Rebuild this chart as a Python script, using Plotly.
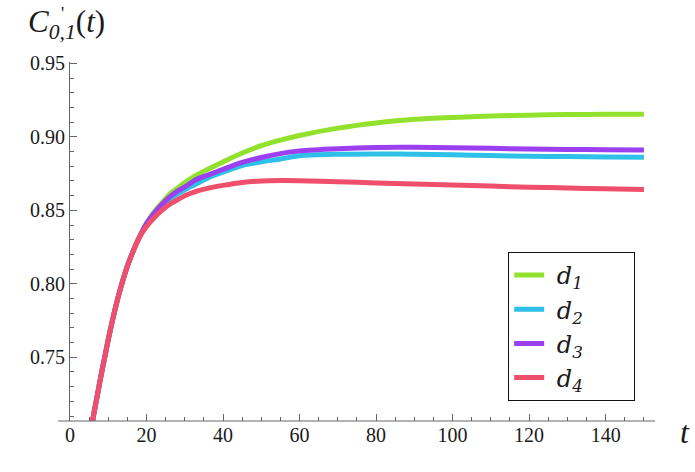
import plotly.graph_objects as go

t = [5.8, 6, 7, 8, 9, 10, 11, 12, 13, 14, 15, 16, 18, 20, 22, 24, 26, 28, 30, 33, 36, 40, 45, 50, 55, 60,
     70, 80, 90, 100, 110, 120, 130, 140, 150]
early = [0.703, 0.708, 0.722, 0.736, 0.749, 0.762, 0.774, 0.785, 0.795, 0.804, 0.812, 0.819, 0.831]
d1 = early + [0.841, 0.849, 0.855, 0.861, 0.865, 0.869, 0.874, 0.878, 0.883, 0.889, 0.894, 0.8978, 0.901,
              0.906, 0.9095, 0.912, 0.9133, 0.9142, 0.9148, 0.9152, 0.9154, 0.9155]
d2 = early + [0.841, 0.848, 0.853, 0.857, 0.861, 0.864, 0.868, 0.872, 0.876, 0.8805, 0.883, 0.885, 0.8872,
              0.8882, 0.8884, 0.8882, 0.8878, 0.8873, 0.8869, 0.8866, 0.8863, 0.8861]
d3 = early + [0.841, 0.848, 0.854, 0.859, 0.863, 0.866, 0.871, 0.874, 0.878, 0.8827, 0.886, 0.8886, 0.8905,
              0.892, 0.8928, 0.8929, 0.8926, 0.8922, 0.8918, 0.8915, 0.8913, 0.8911]
d4 = early + [0.839, 0.845, 0.850, 0.854, 0.857, 0.860, 0.863, 0.865, 0.867, 0.869, 0.870, 0.8703, 0.8702,
              0.8695, 0.8687, 0.868, 0.8672, 0.8665, 0.8658, 0.8652, 0.8647, 0.8642]

names = ["&nbsp;<i>d</i><sub><i>1</i></sub>&nbsp;&nbsp;&nbsp;&nbsp;&nbsp;&nbsp;", "&nbsp;<i>d</i><sub><i>2</i></sub>",
         "&nbsp;<i>d</i><sub><i>3</i></sub>", "&nbsp;<i>d</i><sub><i>4</i></sub>"]
series = [d1, d2, d3, d4]
colors = ["#92e22d", "#2ec0e8", "#9c3ff0", "#f04f6b"]

x_ticks = [0, 20, 40, 60, 80, 100, 120, 140]
y_ticks = [0.75, 0.80, 0.85, 0.90, 0.95]
y_labels = ["0.75", "0.80", "0.85", "0.90", "0.95"]

fig = go.Figure()
for i, (nm, ys, c) in enumerate(zip(names, series, colors)):
    fig.add_trace(go.Scatter(x=t, y=ys, mode="lines", name=nm, legendgroup=str(i),
                             line=dict(color=c, width=5, shape="spline", smoothing=0.8)))

font = "Times New Roman"
font2 = "DejaVu Serif"
axcol = "#666666"
txtcol = "#1a1a1a"
fig.update_layout(
    width=695, height=472,
    margin=dict(l=70, r=40, t=62, b=51),
    paper_bgcolor="white", plot_bgcolor="white",
    font=dict(family=font, size=20, color=txtcol),
    xaxis=dict(range=[0, 152.9], tickvals=x_ticks, ticks="inside", ticklen=7, tickcolor=axcol,
               showgrid=False, zeroline=False, showline=False,
               minor=dict(dtick=5, ticks="inside", ticklen=4, tickcolor=axcol, showgrid=False),
               tickfont=dict(family=font, size=20, color=txtcol)),
    yaxis=dict(range=[0.7066, 0.951], tickvals=y_ticks, ticktext=y_labels, ticks="inside",
               ticklen=7, tickcolor=axcol, showgrid=False, zeroline=False, showline=True,
               linecolor=axcol, linewidth=1,
               minor=dict(dtick=0.01, tick0=0.70, ticks="inside", ticklen=4, tickcolor=axcol, showgrid=False),
               tickfont=dict(family=font, size=20, color=txtcol)),
    legend=dict(x=0.749, y=0.471, xanchor="left", yanchor="top", bordercolor="#111", borderwidth=1,
                bgcolor="white", font=dict(family=font2, size=24, color=txtcol),
                tracegroupgap=0, itemwidth=30),
    showlegend=True,
)
# x-axis line (extends slightly left of the y axis as in the original)
fig.add_shape(type="line", xref="paper", yref="paper", x0=-0.02, x1=1.0, y0=0, y1=0,
              line=dict(color=axcol, width=1))
fig.add_annotation(xref="paper", yref="paper", x=1.04, y=-0.03, text="<i>t</i>", showarrow=False,
                   font=dict(family="Liberation Serif", size=32, color=txtcol), xanchor="left", yanchor="middle")
fig.add_annotation(xref="paper", yref="paper", x=-0.075, y=1.105, text="<i>C</i><sub><i>0,1</i></sub>(<i>t</i>)",
                   showarrow=False, font=dict(family="serif", size=31, color=txtcol),
                   xanchor="left", yanchor="middle")
fig.add_annotation(xref="paper", yref="paper", x=-0.018, y=1.135, text="'",
                   showarrow=False, font=dict(family="serif", size=18, color=txtcol),
                   xanchor="left", yanchor="middle")

fig.write_html("out.html")
